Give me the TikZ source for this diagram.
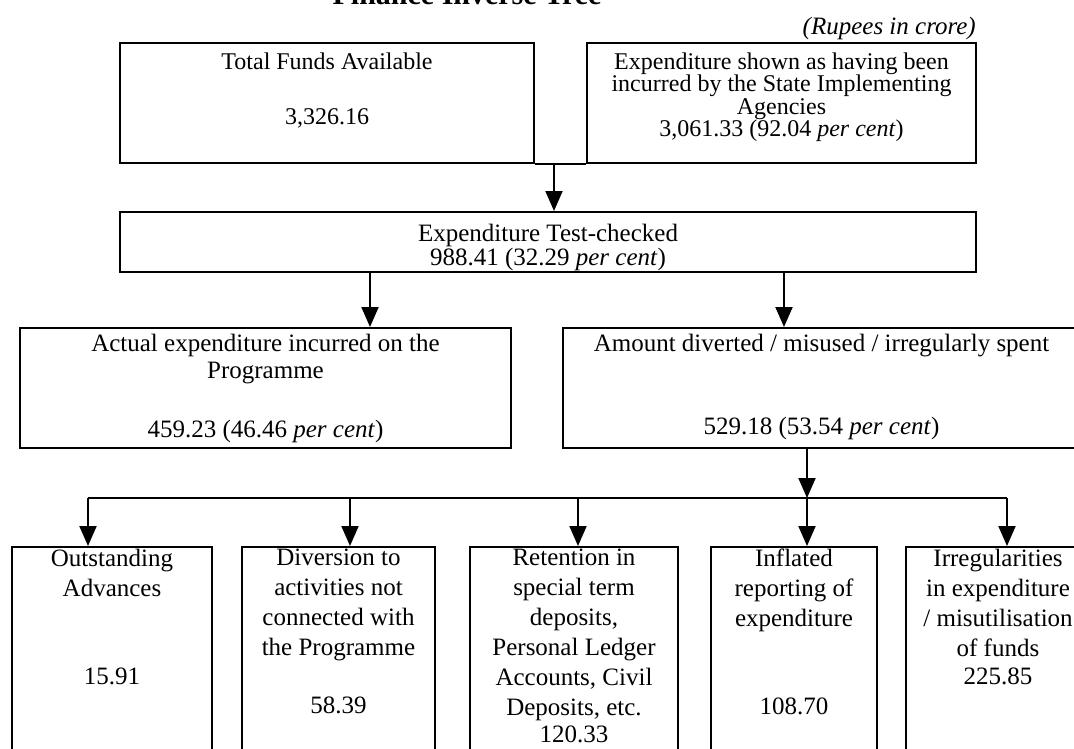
\documentclass[tikz,border=0pt]{standalone}
\usepackage{fontspec}
\setmainfont{Liberation Serif}
\usepackage{tikz}
\usetikzlibrary{arrows.meta,positioning}

\begin{document}
\begin{tikzpicture}[x=1pt,y=-1pt,
  box/.style={draw,line width=2pt,inner sep=0pt},
  txt/.style={align=center,inner sep=0pt,font=\fontsize{24}{22.5}\selectfont},
  widetxt/.style={align=center,inner sep=0pt,font=\fontsize{25}{22.5}\selectfont},
  loosetxt/.style={align=center,inner sep=0pt,font=\fontsize{25}{30}\selectfont},
  link/.style={line width=2pt},
  arrow/.style={-{Triangle[length=20pt,width=17pt]},line width=2pt}]

  \useasboundingbox (0,0) rectangle (1074,748);
  \clip (0,0) rectangle (1074,748);

  % Heading (cut at the top of the page)
  \node[anchor=base,inner sep=0pt,font=\fontsize{30}{32}\selectfont\bfseries]
    (heading) at (467,4) {Finance Inverse Tree};
  \node[anchor=east,inner sep=0pt,font=\fontsize{25}{26}\selectfont\itshape]
    (unit) at (976,28) {(Rupees in crore)};

  % Top row
  \node[box,minimum width=414pt,minimum height=120pt] (funds) at (327,103) {};
  \node[txt,below=10.5pt of funds.north] (fundsT)
    {Total Funds Available\\[32.5pt]3,326.16};

  \node[box,minimum width=389pt,minimum height=120pt] (spent) at (781.5,103) {};
  \node[txt,below=10.5pt of spent.north] (spentT)
    {Expenditure shown as having been\\
     incurred by the State Implementing\\
     Agencies\\
     3,061.33 (92.04 \textit{per cent})};

  % Test-checked
  \node[box,minimum width=856pt,minimum height=60pt] (tested) at (548,242) {};
  \node[widetxt,below=13pt of tested.north] (testedT)
    {Expenditure Test-checked\\
     988.41 (32.29 \textit{per cent})};

  % Second row
  \node[box,minimum width=491pt,minimum height=120pt] (actual) at (265.5,388) {};
  \node[widetxt,below=7pt of actual.north] (actualT)
    {Actual expenditure incurred on the\\[4pt]
     Programme\\[35.5pt]
     459.23 (46.46 \textit{per cent})};

  \node[box,minimum width=517pt,minimum height=120pt] (diverted) at (821.5,388) {};
  \node[widetxt,below=7pt of diverted.north] (divertedT)
    {Amount diverted / misused / irregularly spent\\[59.5pt]
     529.18 (53.54 \textit{per cent})};

  % Bottom row
  \node[box,minimum width=200pt,minimum height=223pt] (adv) at (112,658.5) {};
  \node[loosetxt,below=3pt of adv.north] (advT)
    {Outstanding\\Advances\\[58pt]15.91};

  \node[box,minimum width=193pt,minimum height=223pt] (div) at (338.5,658.5) {};
  \node[loosetxt,below=3pt of div.north] (divT)
    {Diversion to\\activities not\\connected with\\the Programme\\[28pt]58.39};

  \node[box,minimum width=208pt,minimum height=223pt] (ret) at (574,658.5) {};
  \node[loosetxt,below=3pt of ret.north] (retT)
    {Retention in\\special term\\deposits,\\Personal Ledger\\Accounts, Civil\\
     Deposits, etc.\\[-3pt]120.33};

  \node[box,minimum width=166pt,minimum height=223pt] (infl) at (794,658.5) {};
  \node[loosetxt,below=3pt of infl.north] (inflT)
    {Inflated\\reporting of\\expenditure\\[58pt]108.70};

  \node[box,minimum width=184pt,minimum height=223pt] (irreg) at (998,658.5) {};
  \node[loosetxt,below=3pt of irreg.north] (irregT)
    {Irregularities\\in expenditure\\/ misutilisation\\of funds\\[-2pt]225.85};

  % Connectors
  \draw[link] (funds.south east) -- (spent.south west);
  \draw[arrow] ([xshift=19pt]funds.south east)
    -- ([xshift=19pt]funds.south east |- tested.north);
  \draw[arrow] ([xshift=-178pt]tested.south)
    -- ([xshift=-178pt]tested.south |- actual.north);
  \draw[arrow] ([xshift=236pt]tested.south)
    -- ([xshift=236pt]tested.south |- diverted.north);

  \coordinate (bus) at (807,498);
  \draw[arrow] (diverted.south -| bus) -- (bus);
  \draw[link] ([xshift=-24pt]adv.north |- bus) -- ([xshift=9pt]irreg.north |- bus);
  \draw[arrow] ([xshift=-24pt]adv.north |- bus) -- ([xshift=-24pt]adv.north);
  \draw[arrow] ([xshift=11.5pt]div.north |- bus) -- ([xshift=11.5pt]div.north);
  \draw[arrow] ([xshift=4pt]ret.north |- bus) -- ([xshift=4pt]ret.north);
  \draw[arrow] ([xshift=13pt]infl.north |- bus) -- ([xshift=13pt]infl.north);
  \draw[arrow] ([xshift=9pt]irreg.north |- bus) -- ([xshift=9pt]irreg.north);

\end{tikzpicture}
\end{document}
